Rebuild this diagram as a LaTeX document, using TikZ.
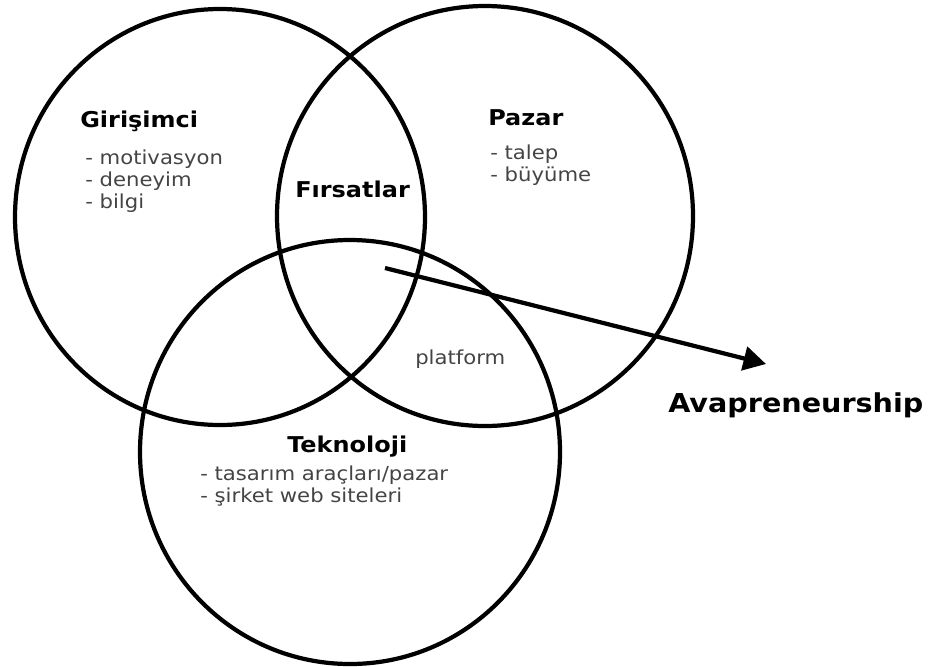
\documentclass[tikz,border=0pt]{standalone}
\usepackage{fontspec}
\newfontfamily\vennfont{DejaVu Sans}[FakeStretch=1.1]
\usepackage{xcolor}
\usepackage{tikz}
\usetikzlibrary{arrows.meta}
\definecolor{itemgray}{HTML}{444444}
\tikzset{
  ring/.style={draw,line width=3pt},
  head/.style={font=\vennfont\bfseries\fontsize{15.5}{18}\selectfont,
               anchor=base west,inner sep=0pt},
  items/.style={font=\vennfont\fontsize{13.7}{15.5}\selectfont,text=itemgray,
                align=left,anchor=base west,inner sep=0pt},
  arr/.style={-{Triangle[length=16pt,width=17pt]},line width=3pt},
}

\begin{document}
\begin{tikzpicture}[x=0.025cm,y=-0.025cm]
\useasboundingbox (0,0) rectangle (932,666);

%% ---------- the three sets ----------
\draw[ring] (220,217) ellipse [x radius=205,y radius=208];
\draw[ring] (485,216) ellipse [x radius=208,y radius=210];
\draw[ring] (350,452) ellipse [x radius=210,y radius=212];

%% ---------- Girişimci ----------
% multi-line nodes sit on their last baseline
\node[head] (gir) at (80,127) {Girişimci};
\node[items] (giritems) at (85,208) {- motivasyon\\- deneyim\\- bilgi};

%% ---------- Pazar ----------
\node[head] (paz) at (488,125) {Pazar};
\node[items] (pazitems) at (490,181) {- talep\\- büyüme};

%% ---------- Teknoloji ----------
\node[head] (tek) at (287,452) {Teknoloji};
\node[items] (tekitems) at (200,502) {- tasarım araçları/pazar\\- şirket web siteleri};

%% ---------- overlaps ----------
\node[head] (firsat) at (295,197) {Fırsatlar};
\node[items] (plat) at (415,364) {platform};

%% ---------- outcome ----------
\node[head,font=\vennfont\bfseries\fontsize{18.5}{21}\selectfont]
  (ava) at (668,412) {Avapreneurship};
\coordinate (src) at (385,268);
\coordinate (tip) at (766,364);
\draw[arr] (src) -- (tip);
\end{tikzpicture}
\end{document}
